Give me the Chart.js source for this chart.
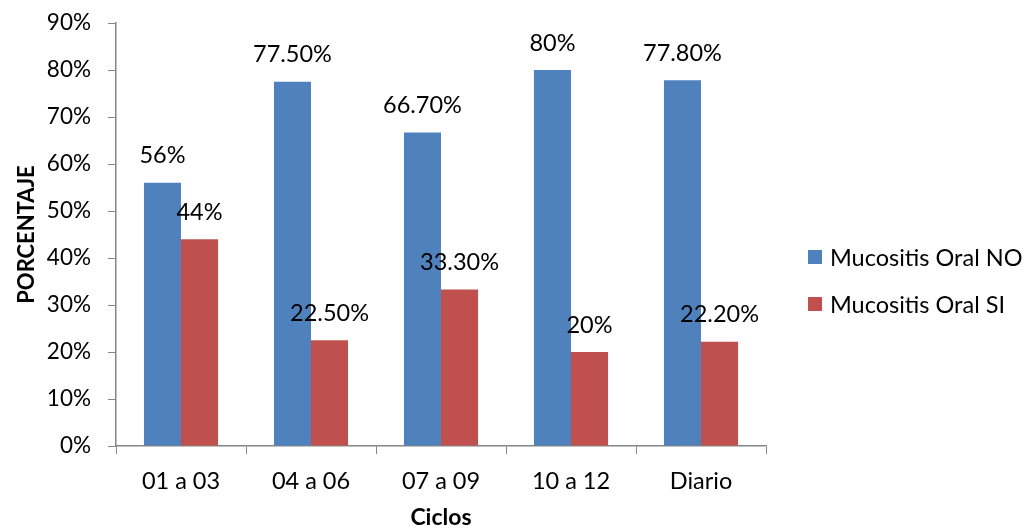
<!DOCTYPE html>
<html>
<head>
<meta charset="utf-8">
<script src="https://cdn.jsdelivr.net/npm/chart.js@4.4.1/dist/chart.umd.min.js"></script>
<style>
  html, body { margin: 0; padding: 0; background: #fff; }
  #wrap { width: 1033px; height: 531px; }
</style>
</head>
<body>
<div id="wrap"><canvas id="c" width="1033" height="531"></canvas></div>
<script>
const categories = ['01 a 03', '04 a 06', '07 a 09', '10 a 12', 'Diario'];
const mucositisNo = [56, 77.5, 66.7, 80, 77.8];
const mucositisSi = [44, 22.5, 33.3, 20, 22.2];
const labelsNo = ['56%', '77.50%', '66.70%', '80%', '77.80%'];
const labelsSi = ['44%', '22.50%', '33.30%', '20%', '22.20%'];
const seriesNames = ['Mucositis Oral NO', 'Mucositis Oral SI'];
const yTicks = [0, 10, 20, 30, 40, 50, 60, 70, 80, 90];

const FONT = 'Lato, "Noto Sans", sans-serif';
const AXIS = '#868686';
const INK = '#000';

// Value labels above each bar
const valueLabels = {
  id: 'valueLabels',
  afterDatasetsDraw(chart) {
    const ctx = chart.ctx;
    ctx.save();
    ctx.font = '23.5px ' + FONT;
    ctx.fillStyle = INK;
    ctx.textAlign = 'center';
    ctx.textBaseline = 'middle';
    chart.data.datasets.forEach((ds, i) => {
      const meta = chart.getDatasetMeta(i);
      meta.data.forEach((bar, j) => {
        ctx.fillText(ds.valueText[j], bar.x, bar.y - 27);
      });
    });
    ctx.restore();
  }
};

// Legend on the right, one entry per series
const sideLegend = {
  id: 'sideLegend',
  afterDraw(chart) {
    const ctx = chart.ctx;
    ctx.save();
    ctx.font = '23.5px ' + FONT;
    ctx.textAlign = 'left';
    ctx.textBaseline = 'middle';
    chart.data.datasets.forEach((ds, i) => {
      const cy = 257 + i * 47;
      ctx.fillStyle = ds.backgroundColor;
      ctx.fillRect(808, cy - 7, 14, 14);
      ctx.fillStyle = INK;
      ctx.fillText(ds.label, 830, cy + 1);
    });
    ctx.restore();
  }
};

new Chart(document.getElementById('c'), {
  type: 'bar',
  data: {
    labels: categories,
    datasets: [
      { label: seriesNames[0], data: mucositisNo, valueText: labelsNo,
        backgroundColor: '#4F81BD', categoryPercentage: 0.57, barPercentage: 1 },
      { label: seriesNames[1], data: mucositisSi, valueText: labelsSi,
        backgroundColor: '#C0504D', categoryPercentage: 0.57, barPercentage: 1 }
    ]
  },
  options: {
    responsive: false,
    animation: false,
    devicePixelRatio: 1,
    layout: { padding: { top: 23, right: 267, left: 0, bottom: 0 } },
    plugins: {
      legend: { display: false },
      tooltip: { enabled: false }
    },
    scales: {
      x: {
        grid: { display: true, drawOnChartArea: false, drawTicks: true, tickLength: 8, color: AXIS, offset: true },
        border: { color: AXIS, width: 1.5 },
        ticks: { font: { family: FONT, size: 23.5 }, color: INK, padding: 13 },
        title: { display: true, text: 'Ciclos', font: { family: FONT, size: 23, weight: 'bold' }, color: INK, padding: { top: 0, bottom: 0 } },
        afterFit(scale) { scale.height = 85; scale.paddingLeft = 0; scale.paddingRight = 0; }
      },
      y: {
        min: 0, max: 90,
        afterBuildTicks(scale) { scale.ticks = yTicks.map(v => ({ value: v })); },
        grid: { display: true, drawOnChartArea: false, drawTicks: true, tickLength: 8, color: AXIS },
        border: { color: AXIS, width: 1.5 },
        ticks: { font: { family: FONT, size: 22.5 }, color: INK, padding: 17, callback: v => v + '%' },
        title: { display: true, text: 'PORCENTAJE', font: { family: FONT, size: 22, weight: 'bold' }, color: INK, padding: { top: 14, bottom: 0 } },
        afterFit(scale) { scale.width = 116; scale.paddingTop = 0; scale.paddingBottom = 0; }
      }
    }
  },
  plugins: [valueLabels, sideLegend]
});
</script>
</body>
</html>
